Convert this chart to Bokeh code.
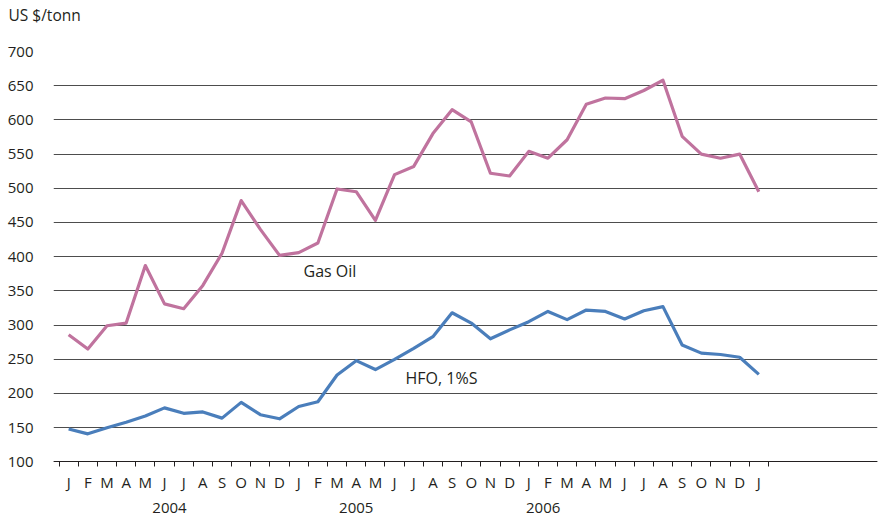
from bokeh.plotting import figure
from bokeh.models import FixedTicker, Range1d, Label
from bokeh.embed import file_html
from bokeh.resources import INLINE

# ---- data ----
months = ["J","F","M","A","M","J","J","A","S","O","N","D"] * 3 + ["J"]
years = ["2004", "2005", "2006"]
year_pos = [5.26, 15.0, 24.75]
gas_oil = [286, 265, 299, 303, 387, 331, 324, 358, 405, 482, 440, 402,
           406, 420, 499, 495, 453, 520, 532, 580, 615, 597, 522, 518,
           554, 544, 571, 623, 632, 631, 643, 658, 576, 550, 544, 550, 495]
hfo = [148, 141, 150, 158, 167, 179, 171, 173, 164, 187, 169, 163,
       181, 188, 227, 248, 235, 250, 266, 283, 318, 303, 280, 293,
       305, 320, 308, 322, 320, 309, 321, 327, 271, 259, 257, 253, 228]
y_ticks = list(range(100, 701, 50))

TXT = "#231F20"
FONT = "Open Sans"
x = list(range(len(months)))

p = figure(width=880, height=517, output_backend="svg", toolbar_location=None,
           x_range=Range1d(-0.79, 42.19), y_range=Range1d(18.7, 700),
           min_border_left=53, min_border_right=3, min_border_top=51,
           min_border_bottom=0)
p.outline_line_color = None
p.background_fill_color = "white"
p.border_fill_color = "white"

p.title.text = "US $/tonn\n"
p.title.align = "left"
p.title.vertical_align = "top"
p.title.offset = -45
p.title.standoff = 4
p.title.text_font = FONT
p.title.text_font_style = "normal"
p.title.text_font_size = "15.5px"
p.title.text_color = TXT

p.line(x, gas_oil, line_color="#C0739E", line_width=3.2, line_join="round")
p.line(x, hfo, line_color="#4A7EBB", line_width=3.2, line_join="round")

# y axis
p.yaxis.ticker = FixedTicker(ticks=y_ticks)
p.yaxis.axis_line_color = None
p.yaxis.major_tick_line_color = None
p.yaxis.major_tick_out = 0
p.yaxis.major_tick_in = 0
p.yaxis.minor_tick_line_color = None
p.yaxis.major_label_standoff = 20
p.yaxis.major_label_text_font = FONT
p.yaxis.major_label_text_font_size = "15px"
p.yaxis.major_label_text_color = TXT

# x axis (months), sitting on the value 100
p.xaxis.fixed_location = y_ticks[0]
p.xaxis.ticker = FixedTicker(ticks=x, minor_ticks=[i - 0.5 for i in range(len(months) + 1)])
p.xaxis.major_label_overrides = {i: m for i, m in enumerate(months)}
p.xaxis.major_tick_line_color = None
p.xaxis.major_tick_out = 0
p.xaxis.major_tick_in = 0
p.xaxis.minor_tick_line_color = TXT
p.xaxis.minor_tick_out = 5
p.xaxis.minor_tick_in = 0
p.xaxis.axis_line_color = TXT
p.xaxis.axis_line_width = 1
p.xaxis.major_label_standoff = 5
p.xaxis.major_label_text_font = FONT
p.xaxis.major_label_text_font_size = "15px"
p.xaxis.major_label_text_color = TXT

p.xgrid.grid_line_color = None
p.ygrid.ticker = FixedTicker(ticks=y_ticks)
p.ygrid.grid_line_color = "#4D4D4D"
p.ygrid.grid_line_width = 1.2

def lab(xv, yv, t, align="left", size="15px"):
    p.add_layout(Label(x=xv, y=yv, text=t, text_font=FONT, text_font_size=size,
                       text_color=TXT, text_align=align, text_baseline="alphabetic"))

for yp, yr in zip(year_pos, years):
    lab(yp, 32.7, yr, "center")
lab(12.25, 378.5, "Gas Oil", size="16px")
lab(17.57, 222.5, "HFO, 1%S", size="16px")

open("out.html", "w").write(file_html(p, INLINE))
